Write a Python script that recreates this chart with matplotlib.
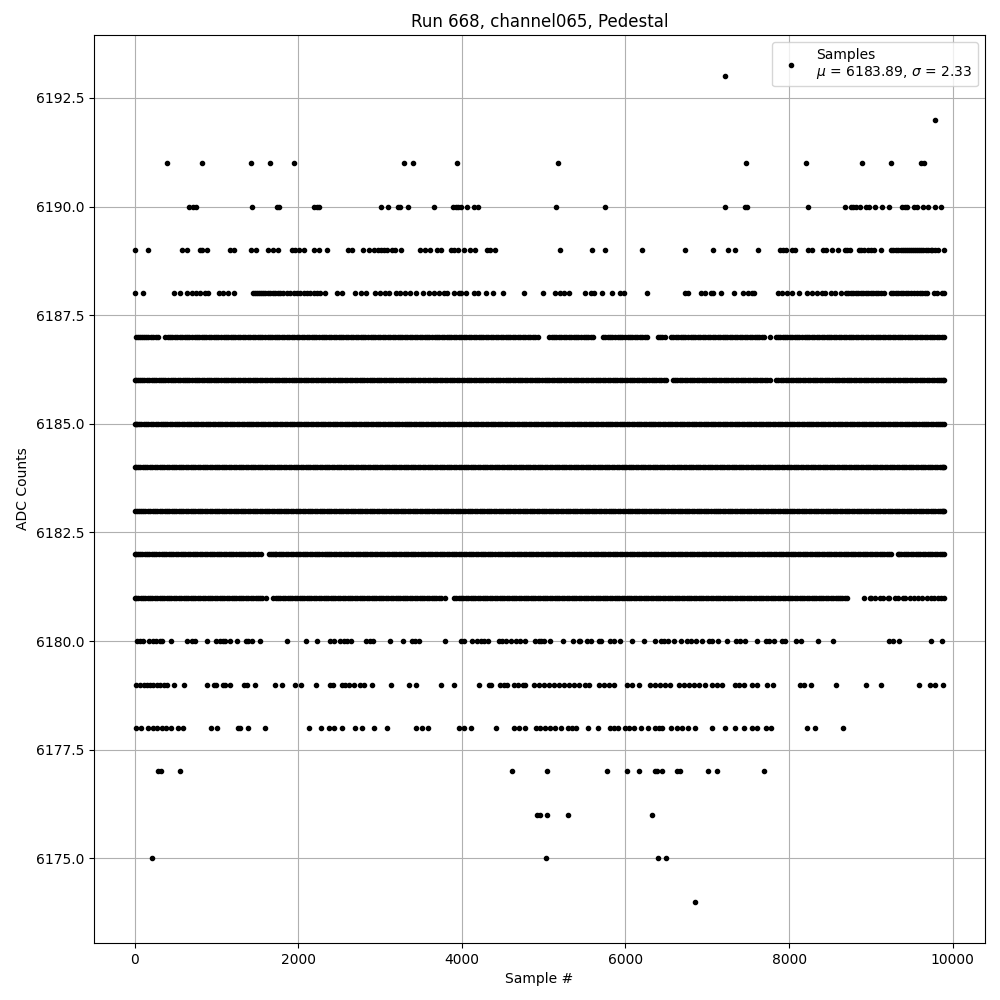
import matplotlib
matplotlib.use("Agg")
import matplotlib.pyplot as plt

title = "Run 668, channel065, Pedestal"
x_label = "Sample #"
y_label = "ADC Counts"
legend_label = "Samples\n$\\mu$ = 6183.89, $\\sigma$ = 2.33"

s6193 = [7215]
s6192 = [9782]
s6191 = [403, 819, 1418, 1650, 1944, 3289, 3399, 3936, 5173, 7471, 8205, 8890, 9244, 9615, 9647]
s6190 = [660, 721, 754, 1430, 1740, 1768, 2196, 2229, 2249, 3007, 3093, 3215, 3248, 3337, 3655, 3892, 3924, 3957, 3989,
         4063, 4144, 4193, 5149, 5748, 7215, 7455, 7488, 8229, 8682, 8751, 8784, 8812, 8869, 8934, 8975, 9048, 9134, 9220,
         9374, 9411, 9444, 9525, 9566, 9639, 9696, 9786, 9855]
s6189 = [0, 159, 575, 640, 795, 827, 884, 1161, 1214, 1418, 1483, 1626, 1687, 1752, 1923, 1964, 2005, 2066, 2196, 2253,
         2347, 2604, 2657, 2787, 2861, 2930, 2971, 3012, 3052, 3085, 3146, 3183, 3256, 3492, 3553, 3606, 3696, 3745, 3867,
         3908, 3957, 4030, 4095, 4165, 4307, 4340, 4401, 5198, 5589, 5748, 6200, 6726, 7068, 7251, 7337, 7618, 7887, 7920,
         7965, 8038, 8066, 8229, 8282, 8413, 8453, 8527, 8596, 8678, 8710, 8743, 8853, 8881, 8914, 8963, 9004, 9036, 9126,
         9240, 9301, 9362, 9411, 9464, 9517, 9566, 9615, 9668, 9729, 9778, 9819, 9896,
         9270, 9335, 9388, 9437, 9490, 9540, 9590, 9641, 9700, 9752]
s6188 = [12, 98, 485, 550, 640, 701, 754, 803, 864, 904, 1027, 1076, 1145, 1218, 1454, 1495, 1544, 1597, 1658, 1719, 1780,
         1862, 1944, 2026, 2107, 2188, 2270, 2331, 2473, 2534, 2689, 2771, 2828, 2942, 3003, 3064, 3105, 3199, 3248, 3309,
         3370, 3443, 3521, 3594, 3655, 3716, 3777, 3818, 3900, 3961, 3989, 4051, 4144, 4193, 4295, 4377, 4499, 4755, 4990,
         5145, 5198, 5247, 5308, 5503, 5573, 5613, 5711, 5833, 5939, 5988, 6261, 6722, 6766, 6925, 6978, 7040, 7072, 7166,
         7325, 7435, 7496, 7549, 7569, 7863, 7916, 7977, 8038, 8119, 8221, 8282, 8343, 8405, 8433, 8507, 8555, 8637, 8690,
         8751, 8812, 8873, 8934, 8996, 9057, 9118, 9159, 9240, 9301, 9362, 9423, 9484, 9566, 9627, 9688, 9776, 9810, 9871, 9899,
         1475, 1520, 1570, 1628, 1688, 1750, 1820, 1903, 1985, 2066, 2148, 2229, 8720, 8780, 8842, 8903, 8965, 9026, 9088,
         9270, 9331, 9392, 9453, 9525, 9596, 9657]
s6187 = [20, 62, 118, 171, 232, 285, 378, 431, 497, 551, 612, 668, 734, 789, 851, 905, 968, 1024, 1089, 1143, 1205, 1262,
         1321, 1387, 1443, 1506, 1561, 1627, 1682, 1741, 1803, 1864, 1921, 1986, 2042, 2103, 2167, 2222, 2288, 2343, 2404,
         2467, 2523, 2581, 2648, 2702, 2769, 2823, 2885, 2942, 3006, 3061, 3125, 3183, 3247, 3304, 3365, 3426, 3487, 3548,
         3604, 3669, 3722, 3788, 3846, 3903, 3968, 4022, 4087, 4143, 4206, 4261, 4326, 4385, 4447, 4502, 4567, 4622, 4688,
         4745, 4807, 4868, 4930, 5068, 5126, 5187, 5248, 5304, 5369, 5425, 5488, 5547, 5609, 5722, 5784, 5841, 5905, 5962,
         6026, 6083, 6147, 6205, 6268, 6392, 6451, 6486, 6556, 6615, 6678, 6733, 6797, 6852, 6914, 6976, 7035, 7097, 7154,
         7218, 7275, 7338, 7397, 7458, 7516, 7579, 7636, 7699, 7765, 7838, 7889, 7951, 8006, 8071, 8126, 8189, 8246, 8308,
         8368, 8427, 8489, 8546, 8609, 8667, 8728, 8786, 8847, 8906, 8967, 9025, 9088, 9145, 9207, 9266, 9326, 9385, 9447,
         9505, 9567, 9626, 9686, 9745, 9806, 9866, 9899,
         40, 90, 145, 202, 258, 405, 464, 524, 581, 640, 701, 762, 820, 878, 936, 996, 1056, 1116, 1174, 1233, 1291, 1354,
         1415, 1474, 1533, 1594, 1655, 1711, 1772, 1833, 1892, 1953, 2014, 2072, 2135, 2194, 2255, 2315, 2373, 2435, 2495,
         2552, 2614, 2675, 2735, 2796, 2854, 2913, 2974, 3033, 3093, 3154, 3215, 3275, 3335, 3395, 3456, 3517, 3576, 3636,
         3695, 3755, 3817, 3874, 3935, 3995, 4054, 4115, 4174, 4233, 4293, 4355, 4416, 4474, 4534, 4594, 4655, 4716, 4776,
         4837, 4899, 5097, 5156, 5217, 5276, 5336, 5397, 5456, 5517, 5578, 5753, 5812, 5873, 5933, 5994, 6054, 6115, 6176,
         6236, 6421, 6585, 6646, 6705, 6765, 6824, 6883, 6945, 7005, 7066, 7125, 7186, 7246, 7306, 7367, 7427, 7487, 7547,
         7607, 7667, 7863, 7920, 7978, 8038, 8098, 8157, 8217, 8277, 8338, 8397, 8458, 8517, 8577, 8638, 8697, 8757, 8816,
         8876, 8936, 8996, 9056, 9116, 9176, 9236, 9296, 9355, 9416, 9476, 9536, 9596, 9656, 9716, 9775, 9836]
s6186 = [0, 38, 91, 147, 208, 263, 324, 378, 442, 497, 559, 618, 672, 736, 791, 853, 908, 971, 1026, 1088, 1147, 1203,
         1266, 1325, 1382, 1446, 1501, 1563, 1621, 1684, 1739, 1802, 1857, 1921, 1976, 2038, 2097, 2153, 2216, 2274, 2332,
         2395, 2451, 2513, 2569, 2633, 2689, 2751, 2808, 2872, 2927, 2991, 3046, 3108, 3165, 3227, 3286, 3344, 3406, 3462,
         3525, 3581, 3644, 3701, 3762, 3819, 3881, 3938, 3999, 4058, 4115, 4178, 4234, 4297, 4353, 4416, 4472, 4535, 4591,
         4654, 4709, 4773, 4829, 4891, 4948, 5011, 5067, 5130, 5186, 5249, 5305, 5368, 5424, 5487, 5543, 5606, 5662, 5725,
         5782, 5843, 5901, 5962, 6019, 6081, 6139, 6200, 6257, 6319, 6376, 6438, 6495, 6578, 6634, 6695, 6752, 6814, 6871,
         6933, 6990, 7052, 7109, 7171, 7228, 7290, 7347, 7409, 7466, 7528, 7585, 7640, 7708, 7762, 7842, 7898, 7960, 8017,
         8079, 8136, 8198, 8255, 8317, 8374, 8436, 8493, 8555, 8612, 8674, 8731, 8793, 8850, 8912, 8969, 9031, 9088, 9150,
         9207, 9269, 9326, 9388, 9445, 9507, 9564, 9626, 9683, 9745, 9802, 9861, 9899,
         18, 64, 120, 177, 236, 294, 351, 410, 470, 528, 589, 645, 704, 763, 822, 880, 939, 998, 1057, 1117, 1175, 1234,
         1295, 1353, 1414, 1473, 1532, 1592, 1652, 1711, 1770, 1829, 1889, 1948, 2007, 2067, 2125, 2184, 2245, 2303, 2363,
         2423, 2482, 2541, 2601, 2661, 2720, 2779, 2840, 2899, 2959, 3018, 3077, 3136, 3196, 3256, 3315, 3375, 3434, 3493,
         3553, 3612, 3672, 3731, 3790, 3850, 3909, 3968, 4028, 4086, 4146, 4206, 4265, 4325, 4384, 4444, 4503, 4563, 4622,
         4681, 4741, 4801, 4860, 4919, 4979, 5039, 5098, 5158, 5217, 5277, 5336, 5396, 5455, 5515, 5574, 5634, 5693, 5753,
         5812, 5872, 5931, 5990, 6050, 6110, 6169, 6228, 6288, 6347, 6407, 6466, 6606, 6664, 6723, 6783, 6842, 6902, 6961,
         7021, 7080, 7140, 7199, 7259, 7318, 7378, 7437, 7497, 7556, 7612, 7672, 7735, 7870, 7929, 7988, 8048, 8107, 8167,
         8226, 8286, 8345, 8405, 8464, 8524, 8583, 8643, 8702, 8762, 8821, 8881, 8940, 9000, 9059, 9119, 9178, 9238, 9297,
         9357, 9416, 9476, 9535, 9595, 9654, 9714, 9773, 9832, 9880]
s6185 = [0, 33, 85, 142, 199, 257, 318, 372, 431, 493, 548, 606, 667, 722, 781, 843, 898, 957, 1018, 1073, 1132, 1194,
         1249, 1308, 1369, 1424, 1483, 1545, 1600, 1659, 1720, 1775, 1834, 1896, 1951, 2010, 2071, 2126, 2185, 2247, 2302,
         2361, 2422, 2477, 2536, 2598, 2653, 2712, 2773, 2828, 2887, 2949, 3004, 3063, 3124, 3179, 3238, 3300, 3355, 3414,
         3475, 3530, 3589, 3651, 3706, 3765, 3826, 3881, 3940, 4002, 4057, 4116, 4177, 4232, 4291, 4353, 4408, 4467, 4528,
         4583, 4642, 4704, 4759, 4818, 4879, 4934, 4993, 5055, 5110, 5169, 5230, 5285, 5344, 5406, 5461, 5520, 5581, 5636,
         5695, 5757, 5812, 5871, 5932, 5987, 6046, 6108, 6163, 6222, 6283, 6338, 6397, 6459, 6514, 6573, 6634, 6689, 6748,
         6810, 6865, 6924, 6985, 7040, 7099, 7161, 7216, 7275, 7336, 7391, 7450, 7512, 7567, 7626, 7687, 7742, 7801, 7863,
         7918, 7977, 8038, 8093, 8152, 8214, 8269, 8328, 8389, 8444, 8503, 8565, 8620, 8679, 8740, 8795, 8854, 8916, 8971,
         9030, 9091, 9146, 9205, 9267, 9322, 9381, 9442, 9497, 9556, 9618, 9673, 9732, 9793, 9848, 9899,
         14, 58, 112, 170, 228, 287, 345, 401, 462, 520, 577, 636, 694, 751, 812, 870, 927, 987, 1045, 1102, 1163, 1221,
         1278, 1338, 1396, 1453, 1514, 1572, 1629, 1689, 1747, 1804, 1865, 1923, 1980, 2040, 2098, 2155, 2216, 2274, 2331,
         2391, 2449, 2506, 2567, 2625, 2682, 2742, 2800, 2857, 2918, 2976, 3033, 3093, 3151, 3208, 3269, 3327, 3384, 3444,
         3502, 3559, 3620, 3678, 3735, 3795, 3853, 3910, 3971, 4029, 4086, 4146, 4204, 4261, 4322, 4380, 4437, 4497, 4555,
         4612, 4673, 4731, 4788, 4848, 4906, 4963, 5024, 5082, 5139, 5199, 5257, 5314, 5375, 5433, 5490, 5550, 5608, 5665,
         5726, 5784, 5841, 5901, 5959, 6016, 6077, 6135, 6192, 6252, 6310, 6367, 6428, 6486, 6543, 6603, 6661, 6718, 6779,
         6837, 6894, 6954, 7012, 7069, 7130, 7188, 7245, 7305, 7363, 7420, 7481, 7539, 7596, 7656, 7714, 7771, 7832, 7890,
         7947, 8007, 8065, 8122, 8183, 8241, 8298, 8358, 8416, 8473, 8534, 8592, 8649, 8709, 8767, 8824, 8885, 8943, 9000,
         9060, 9118, 9175, 9236, 9294, 9351, 9411, 9469, 9526, 9587, 9645, 9702, 9762, 9820, 9872]
s6184 = [0, 44, 103, 158, 219, 277, 336, 392, 453, 511, 570, 626, 687, 745, 804, 860, 921, 979, 1038, 1094, 1155, 1213,
         1272, 1328, 1389, 1447, 1506, 1562, 1623, 1681, 1740, 1796, 1857, 1915, 1974, 2030, 2091, 2149, 2208, 2264, 2325,
         2383, 2442, 2498, 2559, 2617, 2676, 2732, 2793, 2851, 2910, 2966, 3027, 3085, 3144, 3200, 3261, 3319, 3378, 3434,
         3495, 3553, 3612, 3668, 3729, 3787, 3846, 3902, 3963, 4021, 4080, 4136, 4197, 4255, 4314, 4370, 4431, 4489, 4548,
         4604, 4665, 4723, 4782, 4838, 4899, 4957, 5016, 5072, 5133, 5191, 5250, 5306, 5367, 5425, 5484, 5540, 5601, 5659,
         5718, 5774, 5835, 5893, 5952, 6008, 6069, 6127, 6186, 6242, 6303, 6361, 6420, 6476, 6537, 6595, 6654, 6710, 6771,
         6829, 6888, 6944, 7005, 7063, 7122, 7178, 7239, 7297, 7356, 7412, 7473, 7531, 7590, 7646, 7707, 7765, 7824, 7880,
         7941, 7999, 8058, 8114, 8175, 8233, 8292, 8348, 8409, 8467, 8526, 8582, 8643, 8701, 8760, 8816, 8877, 8935, 8994,
         9050, 9111, 9169, 9228, 9284, 9345, 9403, 9462, 9518, 9579, 9637, 9696, 9752, 9813, 9864, 9899,
         22, 73, 130, 188, 248, 306, 364, 422, 482, 540, 598, 656, 716, 774, 832, 890, 950, 1008, 1066, 1124, 1184, 1242,
         1300, 1358, 1418, 1476, 1534, 1592, 1652, 1710, 1768, 1826, 1886, 1944, 2002, 2060, 2120, 2178, 2236, 2294, 2354,
         2412, 2470, 2528, 2588, 2646, 2704, 2762, 2822, 2880, 2938, 2996, 3056, 3114, 3172, 3230, 3290, 3348, 3406, 3464,
         3524, 3582, 3640, 3698, 3758, 3816, 3874, 3932, 3992, 4050, 4108, 4166, 4226, 4284, 4342, 4400, 4460, 4518, 4576,
         4634, 4694, 4752, 4810, 4868, 4928, 4986, 5044, 5102, 5162, 5220, 5278, 5336, 5396, 5454, 5512, 5570, 5630, 5688,
         5746, 5804, 5864, 5922, 5980, 6038, 6098, 6156, 6214, 6272, 6332, 6390, 6448, 6506, 6566, 6624, 6682, 6740, 6800,
         6858, 6916, 6974, 7034, 7092, 7150, 7208, 7268, 7326, 7384, 7442, 7502, 7560, 7618, 7676, 7736, 7794, 7852, 7910,
         7970, 8028, 8086, 8144, 8204, 8262, 8320, 8378, 8438, 8496, 8554, 8612, 8672, 8730, 8788, 8846, 8906, 8964, 9022,
         9080, 9140, 9198, 9256, 9314, 9374, 9432, 9490, 9548, 9608, 9666, 9724, 9782, 9838, 9882]
s6183 = [0, 29, 76, 134, 189, 251, 306, 367, 424, 482, 543, 598, 659, 714, 776, 831, 892, 949, 1007, 1068, 1123, 1184,
         1239, 1301, 1356, 1417, 1474, 1532, 1593, 1648, 1709, 1764, 1826, 1881, 1942, 1999, 2057, 2118, 2173, 2234, 2289,
         2351, 2406, 2467, 2524, 2582, 2643, 2698, 2759, 2814, 2876, 2931, 2992, 3049, 3107, 3168, 3223, 3284, 3339, 3401,
         3456, 3517, 3574, 3632, 3693, 3748, 3809, 3864, 3926, 3981, 4042, 4099, 4157, 4218, 4273, 4334, 4389, 4451, 4506,
         4567, 4624, 4682, 4743, 4798, 4859, 4914, 4976, 5031, 5092, 5149, 5207, 5268, 5323, 5384, 5439, 5501, 5556, 5617,
         5674, 5732, 5793, 5848, 5909, 5964, 6026, 6081, 6142, 6199, 6257, 6318, 6373, 6434, 6489, 6551, 6606, 6667, 6724,
         6782, 6843, 6898, 6959, 7014, 7076, 7131, 7192, 7249, 7307, 7368, 7423, 7484, 7539, 7601, 7656, 7717, 7774, 7832,
         7893, 7948, 8009, 8064, 8126, 8181, 8242, 8299, 8357, 8418, 8473, 8534, 8589, 8651, 8706, 8767, 8824, 8882, 8943,
         8998, 9059, 9114, 9176, 9231, 9292, 9349, 9407, 9468, 9523, 9584, 9639, 9701, 9756, 9817, 9868, 9899,
         52, 105, 161, 220, 278, 336, 395, 453, 512, 570, 628, 686, 745, 803, 861, 920, 978, 1037, 1095, 1153, 1211, 1270,
         1328, 1386, 1445, 1503, 1562, 1620, 1678, 1736, 1795, 1853, 1911, 1970, 2028, 2087, 2145, 2203, 2261, 2320, 2378,
         2436, 2495, 2553, 2612, 2670, 2728, 2786, 2845, 2903, 2961, 3020, 3078, 3137, 3195, 3253, 3311, 3370, 3428, 3486,
         3545, 3603, 3662, 3720, 3778, 3836, 3895, 3953, 4011, 4070, 4128, 4187, 4245, 4303, 4361, 4420, 4478, 4536, 4595,
         4653, 4712, 4770, 4828, 4886, 4945, 5003, 5061, 5120, 5178, 5237, 5295, 5353, 5411, 5470, 5528, 5586, 5645, 5703,
         5762, 5820, 5878, 5936, 5995, 6053, 6111, 6170, 6228, 6287, 6345, 6403, 6461, 6520, 6578, 6636, 6695, 6753, 6812,
         6870, 6928, 6986, 7045, 7103, 7161, 7220, 7278, 7337, 7395, 7453, 7511, 7570, 7628, 7686, 7745, 7803, 7862, 7920,
         7978, 8036, 8095, 8153, 8211, 8270, 8328, 8387, 8445, 8503, 8561, 8620, 8678, 8736, 8795, 8853, 8912, 8970, 9028,
         9086, 9145, 9203, 9261, 9320, 9378, 9437, 9495, 9553, 9611, 9670, 9728, 9786, 9843, 9884]
s6182 = [0, 41, 97, 152, 214, 268, 331, 386, 447, 503, 566, 621, 682, 738, 801, 856, 917, 973, 1036, 1091, 1152, 1208,
         1271, 1326, 1387, 1443, 1506, 1540, 1640, 1690, 1733, 1789, 1852, 1907, 1968, 2024, 2087, 2142, 2203, 2259, 2322,
         2377, 2438, 2494, 2557, 2612, 2673, 2729, 2792, 2847, 2908, 2964, 3027, 3082, 3143, 3199, 3262, 3317, 3378, 3434,
         3497, 3552, 3613, 3669, 3732, 3787, 3848, 3904, 3967, 4022, 4083, 4139, 4202, 4257, 4318, 4374, 4437, 4492, 4553,
         4609, 4672, 4727, 4788, 4844, 4907, 4962, 5023, 5079, 5142, 5197, 5258, 5314, 5377, 5432, 5493, 5549, 5612, 5667,
         5728, 5784, 5847, 5902, 5963, 6019, 6082, 6137, 6198, 6254, 6317, 6372, 6433, 6489, 6552, 6607, 6668, 6724, 6787,
         6842, 6903, 6959, 7022, 7077, 7138, 7194, 7257, 7312, 7373, 7429, 7492, 7547, 7608, 7664, 7727, 7782, 7843, 7899,
         7962, 8017, 8078, 8134, 8197, 8252, 8313, 8369, 8432, 8487, 8548, 8604, 8667, 8722, 8783, 8839, 8902, 8957, 9018,
         9074, 9137, 9192, 9240, 9330, 9368, 9431, 9486, 9547, 9603, 9666, 9721, 9782, 9838, 9899,
         20, 69, 124, 183, 241, 299, 358, 416, 475, 534, 593, 651, 710, 769, 828, 886, 945, 1004, 1063, 1121, 1180, 1239,
         1298, 1356, 1415, 1474, 1665, 1712, 1761, 1820, 1879, 1937, 1996, 2055, 2114, 2172, 2231, 2290, 2349, 2407, 2466,
         2525, 2584, 2642, 2701, 2760, 2819, 2877, 2936, 2995, 3054, 3112, 3171, 3230, 3289, 3347, 3406, 3465, 3524, 3582,
         3641, 3700, 3759, 3817, 3876, 3935, 3994, 4052, 4111, 4170, 4229, 4287, 4346, 4405, 4464, 4522, 4581, 4640, 4699,
         4757, 4816, 4875, 4934, 4992, 5051, 5110, 5169, 5227, 5286, 5345, 5404, 5462, 5521, 5580, 5639, 5697, 5756, 5815,
         5874, 5932, 5991, 6050, 6109, 6167, 6226, 6285, 6344, 6402, 6461, 6520, 6579, 6637, 6696, 6755, 6814, 6872, 6931,
         6990, 7049, 7107, 7166, 7225, 7284, 7342, 7401, 7460, 7519, 7577, 7636, 7695, 7754, 7812, 7871, 7930, 7989, 8047,
         8106, 8165, 8224, 8282, 8341, 8400, 8459, 8517, 8576, 8635, 8694, 8752, 8811, 8870, 8929, 8987, 9046, 9105, 9164,
         9216, 9349, 9399, 9458, 9516, 9575, 9634, 9693, 9751, 9810, 9868]
s6181 = [0, 47, 102, 161, 218, 276, 337, 393, 452, 513, 569, 628, 689, 745, 804, 865, 921, 980, 1041, 1097, 1156, 1217,
         1273, 1332, 1393, 1449, 1508, 1560, 1605, 1696, 1752, 1811, 1872, 1928, 1987, 2048, 2104, 2163, 2224, 2280, 2339,
         2400, 2456, 2515, 2576, 2632, 2691, 2752, 2808, 2867, 2928, 2984, 3043, 3104, 3160, 3219, 3280, 3336, 3395, 3456,
         3512, 3571, 3632, 3688, 3747, 3790, 3905, 3961, 4020, 4081, 4137, 4196, 4257, 4313, 4372, 4433, 4489, 4548, 4609,
         4665, 4724, 4785, 4841, 4900, 4961, 5017, 5076, 5137, 5193, 5252, 5313, 5369, 5428, 5489, 5545, 5604, 5665, 5721,
         5780, 5841, 5897, 5956, 6017, 6073, 6132, 6193, 6249, 6308, 6369, 6425, 6484, 6545, 6601, 6660, 6721, 6777, 6836,
         6897, 6953, 7012, 7073, 7129, 7188, 7249, 7305, 7364, 7425, 7481, 7540, 7601, 7657, 7716, 7777, 7833, 7892, 7953,
         8009, 8068, 8129, 8185, 8244, 8305, 8361, 8420, 8481, 8537, 8596, 8650, 8705, 8918, 8984, 9003, 9047, 9108, 9142,
         9205, 9226, 9289, 9333, 9387, 9414, 9481, 9522, 9578, 9621, 9686, 9732, 9768, 9820, 9858, 9899,
         24, 75, 131, 190, 247, 307, 365, 423, 483, 541, 599, 659, 717, 775, 835, 893, 951, 1011, 1069, 1127, 1187, 1245,
         1303, 1363, 1421, 1479, 1535, 1724, 1782, 1842, 1900, 1958, 2018, 2076, 2134, 2194, 2252, 2310, 2370, 2428, 2486,
         2546, 2604, 2662, 2722, 2780, 2838, 2898, 2956, 3014, 3074, 3132, 3190, 3250, 3308, 3366, 3426, 3484, 3542, 3602,
         3660, 3718, 3933, 3991, 4051, 4109, 4167, 4227, 4285, 4343, 4403, 4461, 4519, 4579, 4637, 4695, 4755, 4813, 4871,
         4931, 4989, 5047, 5107, 5165, 5223, 5283, 5341, 5399, 5459, 5517, 5575, 5635, 5693, 5751, 5811, 5869, 5927, 5987,
         6045, 6103, 6163, 6221, 6279, 6339, 6397, 6455, 6515, 6573, 6631, 6691, 6749, 6807, 6867, 6925, 6983, 7043, 7101,
         7159, 7219, 7277, 7335, 7395, 7453, 7511, 7571, 7629, 7687, 7747, 7805, 7863, 7923, 7981, 8039, 8099, 8157, 8215,
         8275, 8333, 8391, 8451, 8509, 8567, 8623, 8678]
s6180 = [29, 70, 98, 183, 224, 265, 306, 338, 444, 640, 701, 742, 880, 998, 1039, 1080, 1108, 1161, 1247, 1357, 1381, 1442,
         1528, 1858, 2099, 2225, 2392, 2441, 2514, 2555, 2596, 2645, 2832, 2880, 2913, 3117, 3276, 3390, 3431, 3472, 3790,
         3989, 4030, 4120, 4185, 4234, 4275, 4316, 4450, 4491, 4544, 4601, 4662, 4715, 4776, 4898, 4939, 4969, 5010, 5083,
         5238, 5357, 5430, 5450, 5532, 5573, 5674, 5703, 5809, 5858, 5939, 6074, 6225, 6367, 6436, 6477, 6518, 6591, 6681,
         6746, 6795, 6856, 6938, 7019, 7060, 7129, 7239, 7345, 7394, 7467, 7610, 7712, 7753, 7814, 7916, 7944, 8079, 8140,
         8352, 8535, 9220, 9268, 9342, 9733, 9867]
s6179 = [20, 69, 110, 151, 191, 232, 273, 314, 363, 403, 485, 611, 880, 966, 998, 1076, 1108, 1161, 1333, 1373, 1467, 1711,
         1797, 1956, 2029, 2213, 2384, 2425, 2535, 2575, 2616, 2677, 2751, 2800, 2897, 3130, 3350, 3435, 3741, 3900, 4205,
         4327, 4356, 4470, 4511, 4552, 4633, 4682, 4743, 4776, 4888, 4941, 5002, 5063, 5124, 5185, 5247, 5308, 5369, 5430,
         5511, 5552, 5674, 5735, 5797, 5858, 6021, 6082, 6163, 6306, 6367, 6428, 6489, 6550, 6652, 6713, 6775, 6836, 6897,
         6978, 7060, 7121, 7182, 7333, 7386, 7447, 7549, 7610, 7724, 7806, 8131, 8181, 8266, 8572, 8938, 9122, 9586, 9721,
         9778, 9876]
s6178 = [20, 77, 171, 220, 281, 334, 387, 444, 526, 587, 933, 1006, 1259, 1292, 1385, 1589, 2127, 2274, 2372, 2433, 2531,
         2690, 2775, 2930, 3081, 3435, 3513, 3582, 3969, 4030, 4108, 4421, 4633, 4694, 4768, 4912, 4961, 5022, 5083, 5145,
         5214, 5295, 5348, 5397, 5548, 5666, 5809, 5858, 5907, 5992, 6049, 6102, 6192, 6273, 6355, 6408, 6449, 6555, 6632,
         6693, 6766, 6848, 7056, 7215, 7337, 7447, 7549, 7602, 7716, 7781, 8217, 8315, 8657]
s6177 = [293, 322, 562, 4609, 5039, 5772, 6017, 6163, 6355, 6388, 6449, 6632, 6661, 7007, 7117, 7691]
s6176 = [4920, 4961, 5043, 5295, 6322]
s6175 = [208, 5026, 6396, 6493]
s6174 = [6848]

levels = [6174, 6175, 6176, 6177, 6178, 6179, 6180, 6181, 6182, 6183, 6184, 6185, 6186, 6187, 6188, 6189, 6190, 6191, 6192, 6193]
rows = [s6174, s6175, s6176, s6177, s6178, s6179, s6180, s6181, s6182, s6183, s6184, s6185, s6186, s6187, s6188, s6189, s6190, s6191, s6192, s6193]

xs = []
ys = []
for level, row in zip(levels, rows):
    xs.extend(row)
    ys.extend([level] * len(row))

fig, ax = plt.subplots(figsize=(10, 10), dpi=100)
ax.plot(xs, ys, "k.", label=legend_label)
ax.set_title(title)
ax.set_xlabel(x_label)
ax.set_ylabel(y_label)
ax.grid(True)
ax.legend(loc="upper right")
fig.subplots_adjust(left=0.094, right=0.985, top=0.965, bottom=0.057)
fig.savefig("out.png", dpi=100)
